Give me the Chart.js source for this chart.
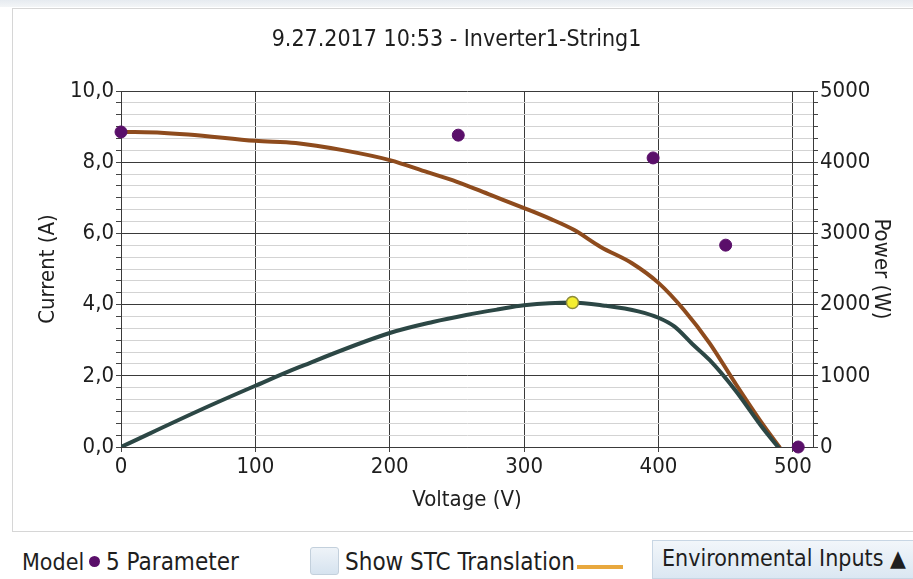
<!DOCTYPE html>
<html>
<head>
<meta charset="utf-8">
<script src="https://cdn.jsdelivr.net/npm/chart.js@4"></script>
<style>
  body { margin: 0; width: 913px; height: 579px; background: #fff; overflow: hidden; position: relative;
         font-family: "DejaVu Sans Condensed", "DejaVu Sans", sans-serif; color: #1e1e1e; }
  #topbar { position: absolute; left: 0; top: 0; width: 913px; height: 7px; background: linear-gradient(#e6ebf0, #f3f5f7); }
  #panel { position: absolute; left: 12px; top: 8px; width: 910px; height: 522px; border: 1px solid #d6d6d6; border-right: none; }
  #wrap { position: absolute; left: 0; top: 0; }
  .leg { position: absolute; font-size: 23px; line-height: 28px; white-space: nowrap; }
  #dot { position: absolute; left: 89px; top: 556px; width: 11px; height: 11px; border-radius: 50%; background: #5a0f6a; }
  #check { position: absolute; left: 310px; top: 547px; width: 27px; height: 26px; border: 1px solid #c3d0dc; border-radius: 3px;
           background: linear-gradient(#eef3f8, #d6e3ef); }
  #stc { position: absolute; left: 577px; top: 565px; width: 46px; height: 4px; background: #e8a83e; }
  #env { position: absolute; left: 652px; top: 540px; width: 262px; height: 39px; border: 1px solid #c8d6e4;
         background: linear-gradient(#f2f6fa, #dbe7f2); box-sizing: border-box; }
</style>
</head>
<body>
<div id="topbar"></div>
<div id="panel"></div>
<div id="wrap"><canvas id="chartIV" width="913" height="540"></canvas></div>
<div class="leg" style="left:22px; top:548px;">Model</div>
<div id="dot"></div>
<div class="leg" style="left:106px; top:548px; font-size:24px;">5 Parameter</div>
<div id="check"></div>
<div class="leg" style="left:345px; top:548px; font-size:24px;">Show STC Translation</div>
<div id="stc"></div>
<div id="env"></div>
<div class="leg" style="left:662px; top:544px;">Environmental Inputs ▲</div>
<script>
    // I-V curve (current, A)
    const currentV = [0, 10, 50, 100, 130, 165, 200, 228, 250, 275, 300, 320, 337, 357, 380, 400, 419, 438, 457, 477, 490];
    const currentA = [8.85, 8.85, 8.78, 8.60, 8.54, 8.34, 8.06, 7.72, 7.45, 7.08, 6.71, 6.40, 6.10, 5.62, 5.17, 4.61, 3.85, 2.92, 1.80, 0.67, 0];

    // P-V curve (power, W)
    const powerV = [0, 59, 100, 133, 200, 232, 257, 280, 300, 336, 360, 385, 400, 412, 425, 438, 457, 477, 489];
    const powerW = [0, 520, 860, 1124, 1601, 1756, 1854, 1930, 1990, 2030, 1985, 1905, 1815, 1690, 1450, 1222, 800, 281, 0];

    // 5 parameter model points
    const modelV = [0, 251, 396, 450, 504];
    const modelA = [8.85, 8.76, 8.12, 5.67, 0];

    // max power point
    const mppV = [336];
    const mppW = [2030];

    const voltageTicks = [0, 100, 200, 300, 400, 500];
    const currentTicks = [0, 2, 4, 6, 8, 10];
    const powerTicks = [0, 1000, 2000, 3000, 4000, 5000];
    const minorSteps = 6;

    const toXY = (xs, ys) => xs.map((x, i) => ({x: x, y: ys[i]}));

    function withMinors(majors, n) {
        let ticks = [];
        for (let i = 0; i < majors.length; i++) {
            ticks.push({value: majors[i]});
            if (i < majors.length - 1) {
                let step = (majors[i + 1] - majors[i]) / n;
                for (let k = 1; k < n; k++) {
                    ticks.push({value: majors[i] + k * step});
                }
            }
        }
        return ticks;
    }

    Chart.defaults.font.family = '"DejaVu Sans Condensed", "DejaVu Sans", sans-serif';
    Chart.defaults.color = '#1e1e1e';

    const ctx = document.getElementById('chartIV');

    new Chart(ctx, {
        type: 'line',
        data: {
            datasets: [{
                label: 'Model',
                data: toXY(modelV, modelA),
                yAxisID: 'yCurrent',
                showLine: false,
                pointRadius: 6,
                pointBackgroundColor: '#5a0f6a',
                pointBorderColor: '#5a0f6a',
                pointBorderWidth: 1,
                clip: false
            }, {
                label: 'MPP',
                data: toXY(mppV, mppW),
                yAxisID: 'yPower',
                showLine: false,
                pointRadius: 6,
                pointBackgroundColor: '#f4ee30',
                pointBorderColor: '#8c8a3c',
                pointBorderWidth: 1.5,
                clip: false
            }, {
                label: 'Power',
                data: toXY(powerV, powerW),
                yAxisID: 'yPower',
                borderColor: '#2c4745',
                borderWidth: 4,
                pointRadius: 0,
                cubicInterpolationMode: 'monotone',
                borderCapStyle: 'round'
            }, {
                label: 'Current',
                data: toXY(currentV, currentA),
                yAxisID: 'yCurrent',
                borderColor: '#8e4b1d',
                borderWidth: 4,
                pointRadius: 0,
                cubicInterpolationMode: 'monotone',
                borderCapStyle: 'round'
            }]
        },
        options: {
            responsive: false,
            animation: false,
            layout: { padding: 0 },
            plugins: {
                legend: { display: false },
                tooltip: { enabled: false },
                title: {
                    display: true,
                    text: '9.27.2017 10:53 - Inverter1-String1',
                    color: '#1e1e1e',
                    font: { size: 23, weight: 'normal' },
                    padding: { top: 26.2, bottom: 37.2 }
                }
            },
            scales: {
                x: {
                    type: 'linear',
                    min: 0,
                    max: 515,
                    afterBuildTicks: (axis) => { axis.ticks = voltageTicks.map(v => ({value: v})); },
                    afterFit: (axis) => { axis.height = 93; },
                    ticks: { font: { size: 22 }, padding: 2, maxRotation: 0, autoSkip: false },
                    grid: { color: '#3a3a3a', tickColor: '#444', tickLength: 5 },
                    border: { color: '#3a3a3a' },
                    title: { display: true, text: 'Voltage (V)', font: { size: 22 }, padding: { top: 4, bottom: 26.8 } }
                },
                yCurrent: {
                    type: 'linear',
                    position: 'left',
                    min: 0,
                    max: 10,
                    afterBuildTicks: (axis) => { axis.ticks = withMinors(currentTicks, minorSteps); },
                    afterFit: (axis) => { axis.width = 121; },
                    ticks: {
                        font: { size: 22 },
                        padding: 2,
                        autoSkip: false,
                        callback: (v, i) => i % minorSteps === 0 ? v.toFixed(1).replace('.', ',') : ''
                    },
                    grid: {
                        color: (c) => c.index % minorSteps === 0 ? '#3a3a3a' : '#d3d3d3',
                        tickColor: '#444',
                        tickLength: 5
                    },
                    border: { color: '#3a3a3a' },
                    title: { display: true, text: 'Current (A)', font: { size: 22 }, padding: { top: 34.8 } }
                },
                yPower: {
                    type: 'linear',
                    position: 'right',
                    min: 0,
                    max: 5000,
                    afterBuildTicks: (axis) => { axis.ticks = withMinors(powerTicks, minorSteps); },
                    afterFit: (axis) => { axis.width = 100; },
                    ticks: {
                        font: { size: 22 },
                        padding: 2,
                        autoSkip: false,
                        callback: (v, i) => i % minorSteps === 0 ? String(Math.round(v)) : ''
                    },
                    grid: { drawOnChartArea: false, tickColor: '#444', tickLength: 5 },
                    border: { color: '#3a3a3a' },
                    title: { display: true, text: 'Power (W)', font: { size: 22 }, padding: { top: 18.8 } }
                }
            }
        }
    });
</script>
</body>
</html>
